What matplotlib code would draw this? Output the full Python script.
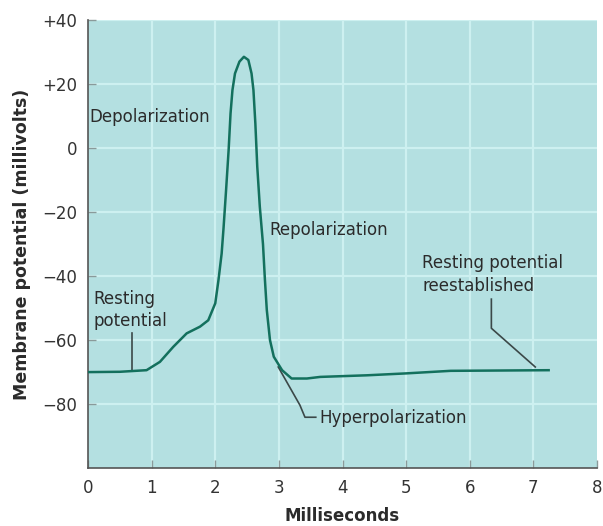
"""
Action potential: membrane potential vs time
"""
import matplotlib
matplotlib.use("Agg")
import matplotlib.pyplot as plt

# ── curve (ms, mV) ───────────────────────────────────────────────────────────
TIME_MS = [0.0, 0.50, 0.92, 1.13, 1.34, 1.55, 1.76, 1.89, 2.00, 2.05, 2.10,
           2.13, 2.17, 2.21, 2.24, 2.27, 2.31, 2.38, 2.45, 2.52, 2.57, 2.60,
           2.63, 2.66, 2.70, 2.75, 2.78, 2.81, 2.86, 2.92, 3.05, 3.20, 3.44,
           3.65, 4.38, 5.00, 5.70, 6.50, 7.26]
POTENTIAL_MV = [-70.0, -69.9, -69.4, -66.8, -62.1, -57.9, -55.8, -53.8, -48.5,
                -41.3, -33.0, -25.0, -13.1, -0.6, 10.8, 18.1, 23.3, 27.0, 28.5,
                27.5, 23.3, 18.1, 7.7, -5.8, -18.3, -30.0, -41.0, -50.6, -60.0,
                -65.2, -69.4, -72.0, -72.0, -71.5, -71.0, -70.4, -69.6, -69.5,
                -69.4]

X_TICKS = [0, 1, 2, 3, 4, 5, 6, 7, 8]
Y_TICKS = [40, 20, 0, -20, -40, -60, -80]
Y_TICK_LABELS = ["+40", "+20", "0", "\u221220", "\u221240", "\u221260", "\u221280"]

# leader lines (data coords)
REST_LEADER_X = [0.69, 0.69]
REST_LEADER_Y = [-57.8, -69.4]
REEST_LEADER_X = [6.34, 6.34, 7.03]
REEST_LEADER_Y = [-47.2, -56.3, -68.4]
HYPER_LEADER_X = [2.99, 3.33, 3.41, 3.58]
HYPER_LEADER_Y = [-68.4, -80.3, -84.1, -84.1]

BG = "#b4e0e1"
GRID = "#cdf0f0"
CURVE = "#13705d"
LEADER = "#3b4848"
TEXT = "#2b2b2b"

fig = plt.figure(figsize=(6.03, 5.26), dpi=100)
ax = fig.add_axes([0.146, 0.110, 0.844, 0.852])
ax.set_facecolor(BG)

ax.set_xlim(0, 8)
ax.set_ylim(-100, 40)

for x in X_TICKS[1:-1]:
    ax.axvline(x, color=GRID, linewidth=1.6, zorder=1)
for y in Y_TICKS:
    ax.axhline(y, color=GRID, linewidth=1.6, zorder=1)

ax.plot(TIME_MS, POTENTIAL_MV, color=CURVE, linewidth=1.8,
        solid_joinstyle="round", solid_capstyle="butt", zorder=4)

# leaders
ax.plot(REST_LEADER_X, REST_LEADER_Y, color=LEADER, linewidth=1.2, zorder=3)
ax.plot(REEST_LEADER_X, REEST_LEADER_Y, color=LEADER, linewidth=1.2, zorder=3)
ax.plot(HYPER_LEADER_X, HYPER_LEADER_Y, color=LEADER, linewidth=1.2, zorder=3)

# labels inside the panel
kw = dict(fontsize=12, color=TEXT, zorder=5)
ax.text(0.02, 9.7, "Depolarization", ha="left", va="center", **kw)
ax.text(2.85, -25.6, "Repolarization", ha="left", va="center", **kw)
ax.text(0.08, -50.6, "Resting\npotential", ha="left", va="center",
        linespacing=1.35, **kw)
ax.text(5.25, -39.4, "Resting potential\nreestablished", ha="left",
        va="center", linespacing=1.35, **kw)
ax.text(3.64, -84.4, "Hyperpolarization", ha="left", va="center", **kw)

# axes styling
for side in ("top", "right"):
    ax.spines[side].set_visible(False)
for side in ("left", "bottom"):
    ax.spines[side].set_color("#555555")
    ax.spines[side].set_linewidth(1.2)

ax.set_xticks(X_TICKS)
ax.set_xticklabels([str(x) for x in X_TICKS])
ax.set_yticks(Y_TICKS)
ax.set_yticklabels(Y_TICK_LABELS)
ax.tick_params(direction="in", length=6, width=1, color="#8a9a9a",
               labelsize=12, labelcolor="#333333")
ax.tick_params(axis="y", pad=8)
ax.tick_params(axis="x", pad=8)

ax.set_xlabel("Milliseconds", fontsize=12, fontweight="bold", color=TEXT,
              labelpad=7)
ax.set_ylabel("Membrane potential (millivolts)", fontsize=12.5,
              fontweight="bold", color=TEXT, labelpad=8)

fig.savefig("out.png", dpi=100)
